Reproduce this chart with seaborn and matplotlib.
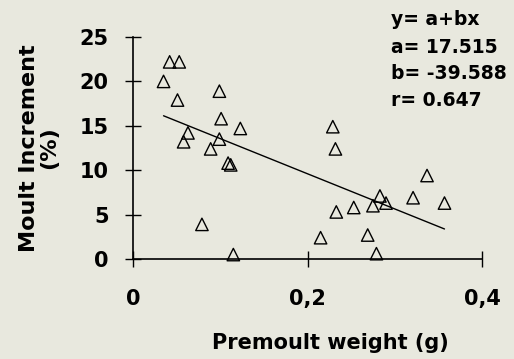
import numpy as np
import pandas as pd
import matplotlib
matplotlib.use("Agg")
import matplotlib.pyplot as plt
import seaborn as sns

# data
premoult_weight = [0.035, 0.042, 0.053, 0.051, 0.063, 0.058, 0.079, 0.089, 0.099, 0.101,
                   0.099, 0.109, 0.112, 0.115, 0.123, 0.215, 0.229, 0.232, 0.233, 0.253,
                   0.269, 0.279, 0.283, 0.275, 0.290, 0.321, 0.337, 0.357]
moult_increment = [20.0, 22.2, 22.2, 17.9, 14.2, 13.2, 3.9, 12.4, 18.9, 15.8,
                   13.5, 10.8, 10.6, 0.5, 14.7, 2.4, 14.9, 12.4, 5.3, 5.8,
                   2.7, 0.6, 7.1, 6.0, 6.3, 6.9, 9.4, 6.3]

fit_a = 17.515
fit_b = -39.588
fit_r = 0.647

x_ticks = [0, 0.2, 0.4]
x_tick_labels = ["0", "0,2", "0,4"]
y_ticks = [0, 5, 10, 15, 20, 25]

bg = "#e8e8de"

sns.set_style("ticks")
plt.rcParams["font.family"] = ["DejaVu Sans"]
plt.rcParams["font.weight"] = "bold"
plt.rcParams["text.color"] = "black"
plt.rcParams["axes.labelcolor"] = "black"
plt.rcParams["xtick.color"] = "black"
plt.rcParams["ytick.color"] = "black"

df = pd.DataFrame({"w": premoult_weight, "mi": moult_increment})
x_line = np.array([df["w"].min(), df["w"].max()])
df_line = pd.DataFrame({"w": x_line, "mi": fit_a + fit_b * x_line})

fig = plt.figure(figsize=(5.14, 3.59), dpi=100, facecolor=bg)
ax = fig.add_axes([133 / 514, 1 - 259 / 359, 349 / 514, 222 / 359])
ax.set_facecolor(bg)

sns.lineplot(data=df_line, x="w", y="mi", color="black", linewidth=1.0, ax=ax)
sns.scatterplot(data=df, x="w", y="mi", marker="^", s=80, facecolors="none",
                edgecolor="black", linewidth=1.0, ax=ax, clip_on=False, zorder=3)

ax.set_xlim(0, 0.4)
ax.set_ylim(0, 25)
ax.set_xticks(x_ticks)
ax.set_xticklabels(x_tick_labels)
ax.set_yticks(y_ticks)

for side in ["top", "right"]:
    ax.spines[side].set_visible(False)
for side in ["left", "bottom"]:
    ax.spines[side].set_linewidth(1.2)
    ax.spines[side].set_color("black")

ax.tick_params(axis="x", direction="inout", length=11, width=1.0, pad=16, labelsize=15,
               colors="black")
ax.tick_params(axis="y", direction="inout", length=11, width=1.0, pad=12, labelsize=15,
               colors="black")
for lab in ax.get_xticklabels() + ax.get_yticklabels():
    lab.set_fontweight("bold")

ax.set_xlabel("Premoult weight (g)", fontsize=15, fontweight="bold", color="black")
ax.xaxis.set_label_coords(0.565, -0.335)
ax.set_ylabel("Moult Increment\n(%)", fontsize=16, fontweight="bold", linespacing=1.0,
              color="black")
ax.yaxis.set_label_coords(-0.213, 0.5)

ann = [("y= a+bx", 25), (f"a= {fit_a:.3f}", 53), (f"b= {fit_b:.3f}", 79), (f"r= {fit_r:.3f}", 106)]
for txt, ypix in ann:
    fig.text(391 / 514, 1 - ypix / 359, txt, fontsize=13.5, fontweight="bold",
             color="black", ha="left", va="baseline")

fig.savefig("out.png", dpi=100, facecolor=bg)
